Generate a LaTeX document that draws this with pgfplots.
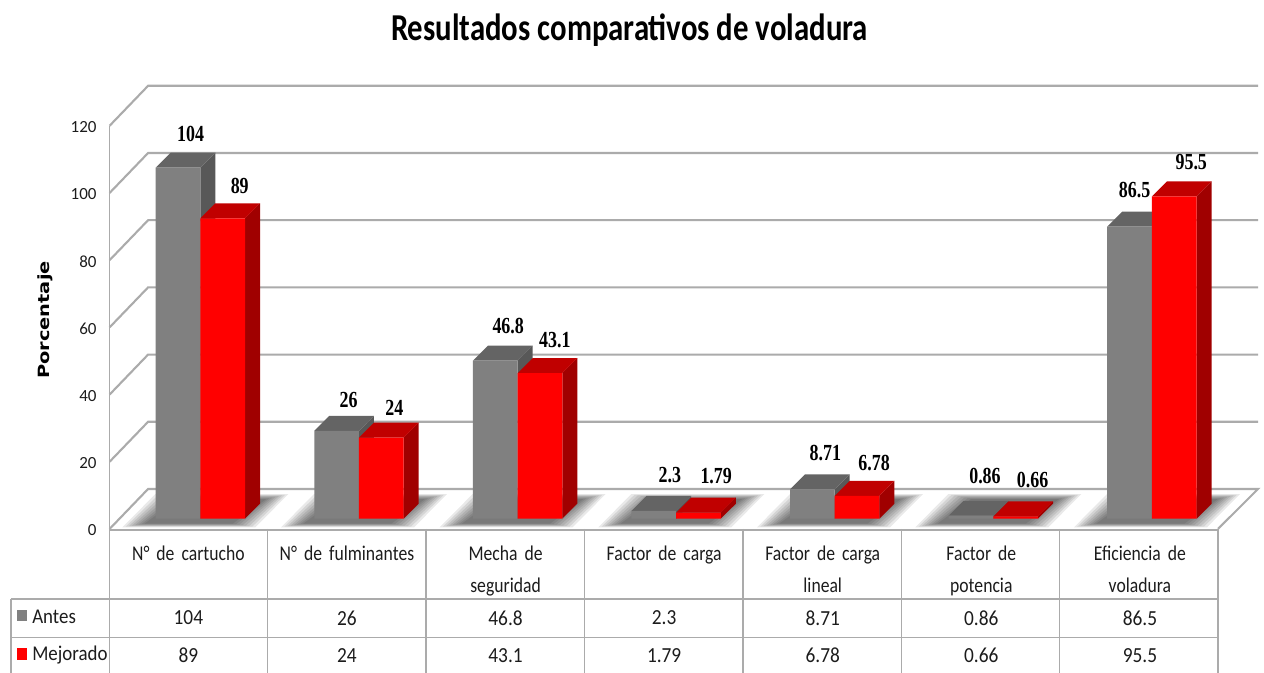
\documentclass[border=0pt]{standalone}
\usepackage{fontspec}
\usepackage{pgfplots}
\usepackage{pgfplotstable}
\pgfplotsset{compat=1.18}
\setmainfont{Carlito}
\newfontfamily\catfont[FakeStretch=0.84,WordSpace=0.7]{Carlito}
\newfontfamily\cellfont[FakeStretch=0.9]{Carlito}
\newfontfamily\ttlfont[FakeStretch=0.81]{Carlito}
\newfontfamily\labfont[FakeStretch=0.78]{Liberation Serif}
\newfontfamily\ylabfont[FakeStretch=1.25]{DejaVu Sans}
\definecolor{gfront}{HTML}{808080}
\definecolor{gside}{HTML}{585858}
\definecolor{gtop}{HTML}{646464}
\definecolor{rfront}{HTML}{FF0000}
\definecolor{rside}{HTML}{A00000}
\definecolor{rtop}{HTML}{C00000}
\definecolor{gridc}{HTML}{ABABAB}
\definecolor{txtc}{HTML}{1C1C1C}
\pgfplotstableread{
x antes mejorado
0 104 89
1 26 24
2 46.8 43.1
3 2.3 1.79
4 8.71 6.78
5 0.86 0.66
6 86.5 95.5
}\datatable
% bar top and side faces
\newcommand\faces[4]{% left x, value, side colour, top colour
  \pgfmathsetmacro\xL{#1}\pgfmathsetmacro\xR{#1+0.2818}
  \pgfmathsetmacro\xLb{\xL+0.0946}\pgfmathsetmacro\xRb{\xR+0.0946}
  \pgfmathsetmacro\vb{#2+4.444}
  \edef\tmp{\noexpand\addplot[fill=#3,draw=none] coordinates {(\xR,0) (\xRb,4.444) (\xRb,\vb) (\xR,#2)};
            \noexpand\addplot[fill=#4,draw=none] coordinates {(\xL,#2) (\xLb,\vb) (\xRb,\vb) (\xR,#2)};}
  \tmp}
% floor shadow: nested translucent parallelograms, pixel x, value y
\newcommand\shadow[1]{%
  \pgfplotsinvokeforeach{0,...,7}{%
    \pgfmathsetmacro\sa{#1-78+##1*3.2}\pgfmathsetmacro\sb{#1+55-##1*3.2}
    \pgfmathsetmacro\sc{#1+88-##1*3.2}\pgfmathsetmacro\sd{#1-45+##1*3.2}
    \pgfmathsetmacro\yf{0.5+##1*0.16}\pgfmathsetmacro\yb{10.4-##1*0.22}
    \edef\tmp{\noexpand\addplot[fill=black,fill opacity=0.085,draw=none] coordinates {(\sa,\yf) (\sb,\yf) (\sc,\yb) (\sd,\yb)};}
    \tmp}}
\newcommand\lab[5]{\node[font=\fontsize{23}{23}\labfont\bfseries,text=black,inner sep=0pt] at (axis cs:#1,#2) [xshift=#3pt,yshift=#4pt] {#5};}
\newcommand\cell[3]{\node[font=\fontsize{21.5}{21.5}\cellfont,text=txtc,inner sep=0pt] at (axis cs:#1,#2) [xshift=-12pt] {#3};}
\begin{document}
\begin{tikzpicture}
% frame axis: x in pixels, y in chart values
\begin{axis}[
  at={(0,0)},anchor=south west,scale only axis,width=1264pt,height=673pt,
  xmin=0,xmax=1264,ymin=-42.857,ymax=157.44,
  axis x line=none,axis y line*=left,y axis line style={draw=none},
  ytick={0,20,40,60,80,100,120},major tick length=0pt,
  /pgf/number format/assume math mode=true,
  yticklabel style={font=\fontsize{17}{17}\selectfont,text=txtc,xshift=100pt,yshift=-1.5pt},
  ylabel={Porcentaje},
  ylabel style={at={(rel axis cs:0.0356,0.5245)},anchor=center,font=\fontsize{15.5}{16}\ylabfont\bfseries,text=black},
  title={Resultados comparativos de voladura},
  title style={at={(rel axis cs:0.498,0.946)},anchor=center,font=\fontsize{38}{38}\ttlfont\bfseries,text=black},
]
% floor
\addplot[fill=white,draw=none] coordinates {(109.5,0) (1218,0) (1258,11.9) (148,11.9)};
\shadow{200.3}\shadow{359}\shadow{517.6}\shadow{676.3}\shadow{835}\shadow{993.3}\shadow{1152}
% wall lines
\addplot[gridc,line width=2.1pt] coordinates {(109.5,0) (148,11.9) (1258,11.9) (1218,0)};
\addplot[gridc,line width=2.1pt] coordinates {(109.5,20) (148,31.9) (1258,31.9)};
\addplot[gridc,line width=2.1pt] coordinates {(109.5,40) (148,51.9) (1258,51.9)};
\addplot[gridc,line width=2.1pt] coordinates {(109.5,60) (148,71.9) (1258,71.9)};
\addplot[gridc,line width=2.1pt] coordinates {(109.5,80) (148,91.9) (1258,91.9)};
\addplot[gridc,line width=2.1pt] coordinates {(109.5,100) (148,111.9) (1258,111.9)};
\addplot[gridc,line width=2.1pt] coordinates {(109.5,120) (148,131.9) (1258,131.9)};
% front edge and table grid
\addplot[gridc,line width=2.4pt] coordinates {(109.5,-0.3) (1218,-0.3)};
\addplot[gridc,line width=1.6pt] coordinates {(109.5,120) (109.5,-42.857)};
\addplot[gridc,line width=1.5pt] coordinates {(10.7,-20.9) (1218,-20.9)};
\addplot[gridc,line width=1.5pt] coordinates {(10.7,-32.35) (1218,-32.35)};
\addplot[gridc,line width=1.5pt] coordinates {(10.7,-20.9) (10.7,-42.857)};
\addplot[gridc,line width=1.5pt] coordinates {(267.5,0) (267.5,-42.857)};
\addplot[gridc,line width=1.5pt] coordinates {(426,0) (426,-42.857)};
\addplot[gridc,line width=1.5pt] coordinates {(584.5,0) (584.5,-42.857)};
\addplot[gridc,line width=1.5pt] coordinates {(743,0) (743,-42.857)};
\addplot[gridc,line width=1.5pt] coordinates {(901.5,0) (901.5,-42.857)};
\addplot[gridc,line width=1.5pt] coordinates {(1059.5,0) (1059.5,-42.857)};
\addplot[gridc,line width=1.5pt] coordinates {(1218,0) (1218,-42.857)};
% legend keys in the table
\addplot[fill=gfront,draw=none] coordinates {(17,-24.1) (27.3,-24.1) (27.3,-27.4) (17,-27.4)};
\addplot[fill=rfront,draw=none] coordinates {(17,-35.4) (27.3,-35.4) (27.3,-39) (17,-39)};
\node[font=\fontsize{21}{21}\cellfont,text=txtc,inner sep=0pt,anchor=west] at (axis cs:32,-26.3) {Antes};
\node[font=\fontsize{21}{21}\cellfont,text=txtc,inner sep=0pt,anchor=west] at (axis cs:32,-37.6) {Mejorado};
\end{axis}
% bars axis: x in category positions, y in values
\begin{axis}[
  at={(0,0)},anchor=south west,scale only axis,width=1264pt,height=673pt,
  xmin=-1.2629,xmax=6.7068,ymin=-45.72,ymax=153.69,
  axis y line=none,axis x line*=middle,x axis line style={draw=none,-},
  xtick={0,1,2,3,4,5,6},major tick length=0pt,
  xticklabels={N° de cartucho,N° de fulminantes,{Mecha de\\seguridad},Factor de carga,{Factor de carga\\lineal},{Factor de\\potencia},{Eficiencia de\\voladura}},
  xticklabel style={font=\fontsize{21}{32}\catfont,text=txtc,text width=155pt,align=center,anchor=north,yshift=-24pt,xshift=-12pt},
  clip=false,
]
\faces{-0.2818}{104}{gside}{gtop}
\faces{0.7182}{26}{gside}{gtop}
\faces{1.7182}{46.8}{gside}{gtop}
\faces{2.7182}{2.3}{gside}{gtop}
\faces{3.7182}{8.71}{gside}{gtop}
\faces{4.7182}{0.86}{gside}{gtop}
\faces{5.7182}{86.5}{gside}{gtop}
\addplot[ybar,bar width=0.2818,bar shift=-0.1409,fill=gfront,draw=none] table[x=x,y=antes] {\datatable};
\faces{0}{89}{rside}{rtop}
\faces{1}{24}{rside}{rtop}
\faces{2}{43.1}{rside}{rtop}
\faces{3}{1.79}{rside}{rtop}
\faces{4}{6.78}{rside}{rtop}
\faces{5}{0.66}{rside}{rtop}
\faces{6}{95.5}{rside}{rtop}
\addplot[ybar,bar width=0.2818,bar shift=0.1409,fill=rfront,draw=none] table[x=x,y=mejorado] {\datatable};
% value labels
\lab{-0.1409}{104}{12.5}{33.7}{104}
\lab{0.1409}{89}{17}{32.7}{89}
\lab{0.8591}{26}{12}{31}{26}
\lab{1.1409}{24}{13}{30}{24}
\lab{1.8591}{46.8}{13}{35}{46.8}
\lab{2.1409}{43.1}{15}{33}{43.1}
\lab{2.8591}{2.3}{16}{36}{2.3}
\lab{3.1409}{1.79}{17.7}{36.7}{1.79}
\lab{3.8591}{8.71}{13}{36.6}{8.71}
\lab{4.1409}{6.78}{17}{33}{6.78}
\lab{4.8591}{0.86}{14}{40}{0.86}
\lab{5.1409}{0.66}{17}{36.5}{0.66}
\lab{5.8591}{86.5}{5}{36.8}{86.5}
\lab{6.1409}{95.5}{17}{34.7}{95.5}
% table values
\cell{0}{-29.4}{104}\cell{1}{-29.4}{26}\cell{2}{-29.4}{46.8}\cell{3}{-29.4}{2.3}\cell{4}{-29.4}{8.71}\cell{5}{-29.4}{0.86}\cell{6}{-29.4}{86.5}
\cell{0}{-40.6}{89}\cell{1}{-40.6}{24}\cell{2}{-40.6}{43.1}\cell{3}{-40.6}{1.79}\cell{4}{-40.6}{6.78}\cell{5}{-40.6}{0.66}\cell{6}{-40.6}{95.5}
\end{axis}
\end{tikzpicture}
\end{document}
